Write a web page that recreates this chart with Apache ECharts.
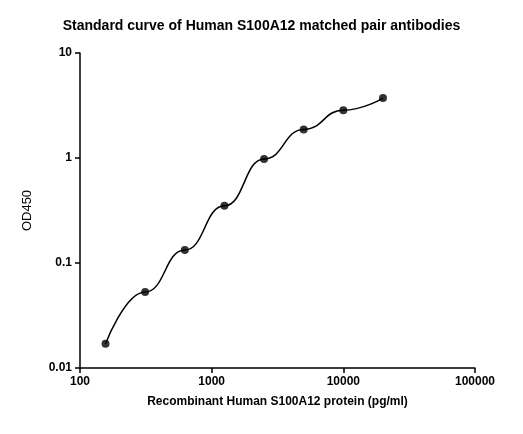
<!DOCTYPE html>
<html><head><meta charset="utf-8">
<script src="https://cdn.jsdelivr.net/npm/echarts@6/dist/echarts.min.js"></script>
<style>html,body{margin:0;padding:0;background:#fff}#c{width:523px;height:434px}</style>
</head><body><div id="c"></div>
<script>
const concentrations = [156.25, 312.5, 625, 1250, 2500, 5000, 10000, 20000];
const od450 = [0.017, 0.053, 0.133, 0.35, 0.98, 1.87, 2.85, 3.72];
const xTicks = [100, 1000, 10000, 100000];
const yTicks = [0.01, 0.1, 1, 10];
const pts = concentrations.map((c, i) => [c, od450[i]]);
const chart = echarts.init(document.getElementById('c'));
const ax = {
  axisLine: {show: true, lineStyle: {color: '#000', width: 1.5}},
  axisTick: {show: true, length: 5, lineStyle: {color: '#000', width: 1.5}},
  splitLine: {show: false},
  axisLabel: {color: '#000', fontSize: 12, fontWeight: 'bold', fontFamily: 'Liberation Sans, Arial',
    formatter: v => String(v)}
};
chart.setOption({
  animation: false,
  title: {text: 'Standard curve of Human S100A12 matched pair antibodies', left: 'center', top: 14,
    textStyle: {fontSize: 14, fontWeight: 'bold', color: '#000', fontFamily: 'Liberation Sans, Arial'}},
  grid: {left: 80, right: 48, top: 53, bottom: 66},
  xAxis: Object.assign({type: 'log', logBase: 10, min: xTicks[0], max: xTicks[3],
    name: 'Recombinant Human S100A12 protein (pg/ml)', nameLocation: 'middle', nameGap: 28,
    nameTextStyle: {fontSize: 12, fontWeight: 'bold', color: '#000', fontFamily: 'Liberation Sans, Arial'}}, ax),
  yAxis: Object.assign({type: 'log', logBase: 10, min: yTicks[0], max: yTicks[3],
    name: 'OD450', nameLocation: 'middle', nameGap: 46,
    nameTextStyle: {fontSize: 13, color: '#000', fontFamily: 'Liberation Sans, Arial'}}, ax),
  series: [
    {type: 'line', data: pts, smooth: 0.5, smoothMonotone: 'x', showSymbol: false, lineStyle: {color: '#000', width: 1.5}},
    {type: 'scatter', data: pts, symbolSize: 8, itemStyle: {color: '#000'}}
  ]
});
</script></body></html>
